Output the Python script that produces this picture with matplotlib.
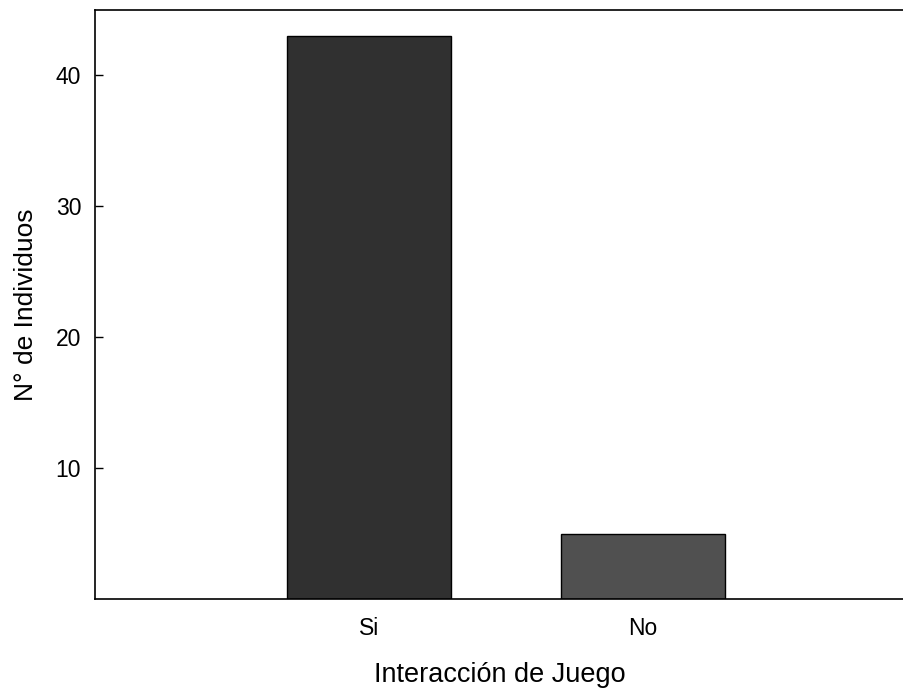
import matplotlib
matplotlib.use("Agg")
import matplotlib.pyplot as plt

categories = ["Si", "No"]
values = [43, 5]
colors = ["#303030", "#505050"]
y_ticks = [10, 20, 30, 40]

plt.rcParams['font.family'] = ['Liberation Sans', 'DejaVu Sans']

fig = plt.figure(figsize=(9.04, 6.88), dpi=100)
ax = fig.add_axes([95/904, 89/688, 1 - 95/904, (599-10)/688])
x = list(range(len(categories)))
ax.bar(x, values, width=0.6, color=colors, edgecolor="black", linewidth=1.0)
ax.set_xlim(-1, 1.954)
ax.set_ylim(0, 45)
ax.set_xticks(x)
ax.set_xticklabels(categories)
ax.set_yticks(y_ticks)
ax.tick_params(axis='x', length=0, pad=13, labelsize=16.5)
ax.tick_params(axis='y', direction='in', length=6, width=1, pad=10, labelsize=16.5)
ax.spines['right'].set_visible(False)
for s in ['left', 'top', 'bottom']:
    ax.spines[s].set_linewidth(1.2)
ax.set_xlabel("Interacción de Juego", fontsize=19.5, labelpad=16)
ax.set_ylabel("N° de Individuos", fontsize=19, labelpad=13)
fig.savefig("out.png", dpi=100)
